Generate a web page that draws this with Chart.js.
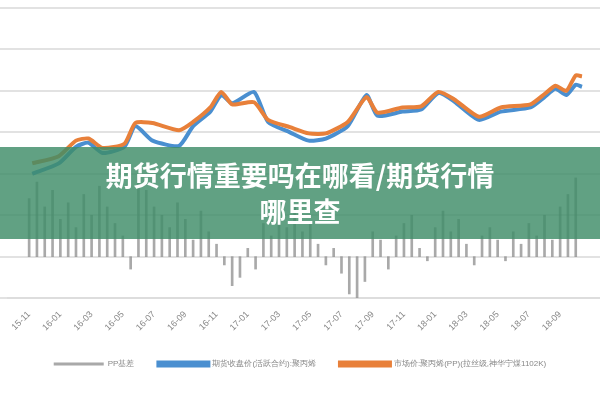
<!DOCTYPE html>
<html>
<head>
<meta charset="utf-8">
<script src="https://cdn.jsdelivr.net/npm/chart.js@4"></script>
<style>
  body { margin: 0; background: #fff; }
  #wrap { position: relative; width: 600px; height: 400px; }
  #band {
    position: absolute; left: 0; top: 147px; width: 600px; height: 92px;
    background: rgba(62, 140, 104, 0.82); color: #fff;
    font-family: "Noto Sans CJK SC", sans-serif; font-weight: bold;
    font-size: 27px; line-height: 36px; text-align: center; padding-top: 10px;
    box-sizing: border-box;
  }
</style>
</head>
<body>
<div id="wrap">
  <canvas id="chart" width="600" height="400"></canvas>
  <div id="band">期货行情重要吗在哪看/期货行情<br>哪里查</div>
</div>
<script>
// month index: 0 = 15-11
const tickLabels = ['15-11','16-01','16-03','16-05','16-07','16-09','16-11','17-01','17-03','17-05','17-07','17-09','17-11','18-01','18-03','18-05','18-07','18-09'];

const priceMonths = [0.2, 1.9, 3.0, 3.8, 4.7, 6.1, 6.8, 7.9, 9.6, 10.5, 11.6, 12.3, 13.0, 14.4, 15.3, 16.7, 17.9, 19.0, 20.4, 21.6, 22.3, 23.9, 25.1, 26.2, 27.2, 28.8, 30.2, 32.1, 33.0, 33.7, 34.4, 35.0, 35.4];
const marketPrice = [8250, 8425, 8800, 8850, 8625, 8725, 9225, 9225, 9050, 9250, 9600, 9975, 9675, 9725, 9300, 9125, 8975, 8975, 9250, 9850, 9475, 9600, 9625, 9975, 9800, 9375, 9600, 9675, 9925, 10125, 10000, 10375, 10350];
const futuresPrice = [8000, 8250, 8650, 8750, 8500, 8650, 9150, 8800, 8675, 9150, 9500, 9900, 9700, 9975, 9250, 9000, 8800, 8850, 9150, 9900, 9400, 9500, 9550, 9950, 9750, 9300, 9500, 9600, 9850, 10050, 9900, 10150, 10100];

const basisMonths = [];
for (let m = 0; m <= 35; m += 0.5) basisMonths.push(m);
const basis = [1400, 1800, 1200, 1600, 900, 1300, 700, 1500, 1000, 1700, 1200, 800, 500, -300, 1900, 1600, 1200, 1000, 700, 1300, 900, 400, 1100, 600, 300, -200, -700, -500, 200, -300, 800, 500, 900, 700, 1200, 600, 800, 300, -200, 200, -400, -900, -1000, -600, 600, 400, -300, 500, 800, 1000, 200, -100, 700, 1100, 600, 900, 300, -200, 500, 700, 400, -100, 600, 300, 800, 500, 1000, 400, 1200, 1500, 1900];

function pts(xs, ys) {
  return xs.map((x, i) => ({ x: x, y: ys[i] }));
}

const ctx = document.getElementById('chart').getContext('2d');
new Chart(ctx, {
  data: {
    datasets: [
      {
        type: 'bar', label: 'PP基差', data: pts(basisMonths, basis),
        backgroundColor: 'rgba(140,140,140,0.75)', borderWidth: 0,
        barThickness: 2, yAxisID: 'y2', order: 3
      },
      {
        type: 'line', label: '期货收盘价(活跃合约):聚丙烯', data: pts(priceMonths, futuresPrice),
        borderColor: '#4a8fd0', backgroundColor: '#4a8fd0', borderWidth: 4,
        pointRadius: 0, tension: 0.2, yAxisID: 'y', order: 2
      },
      {
        type: 'line', label: '市场价:聚丙烯(PP)(拉丝级,神华宁煤1102K)', data: pts(priceMonths, marketPrice),
        borderColor: '#e8803a', backgroundColor: '#e8803a', borderWidth: 4,
        pointRadius: 0, tension: 0.2, yAxisID: 'y', order: 1
      }
    ]
  },
  options: {
    responsive: false, animation: false,
    layout: { padding: { left: 0, right: 0, top: 8, bottom: 22 } },
    plugins: {
      legend: {
        position: 'bottom',
        labels: {
          boxWidth: 50, boxHeight: 3, color: '#888', font: { size: 8 }, padding: 24,
          sort: (a, b) => a.datasetIndex - b.datasetIndex
        }
      },
      tooltip: { enabled: false }
    },
    scales: {
      x: {
        type: 'linear', min: -0.3, max: 35.5,
        afterBuildTicks: s => { s.ticks = tickLabels.map((t, i) => ({ value: i * 2 })); },
        ticks: {
          callback: (v, i) => tickLabels[i], color: '#888', font: { size: 9 },
          maxRotation: 45, minRotation: 45, autoSkip: false
        },
        grid: { display: false },
        border: { color: '#ddd', width: 2 }
      },
      y: {
        min: 5000, max: 12000,
        ticks: { display: false, stepSize: 1000 },
        grid: { color: '#e2e2e2', lineWidth: 2 },
        border: { display: false }
      },
      y2: {
        min: -1000, max: 6000, display: false
      }
    }
  }
});
</script>
</body>
</html>
